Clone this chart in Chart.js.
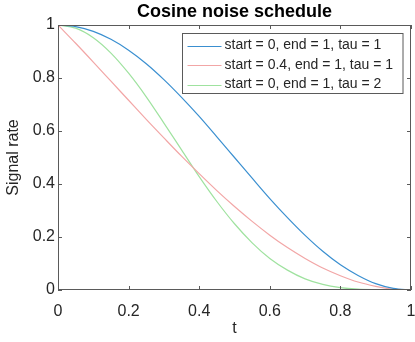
<!DOCTYPE html>
<html>
<head>
<meta charset="utf-8">
<script src="https://cdn.jsdelivr.net/npm/chart.js@4"></script>
<style>
  html, body { margin: 0; padding: 0; background: #fff; }
  #wrap { width: 415px; height: 342px; }
</style>
</head>
<body>
<div id="wrap"><canvas id="chart" width="415" height="342"></canvas></div>
<script>
// values (t from 0 to 1, step 0.05)
const tValues = [0, 0.05, 0.1, 0.15, 0.2, 0.25, 0.3, 0.35, 0.4, 0.45, 0.5,
                 0.55, 0.6, 0.65, 0.7, 0.75, 0.8, 0.85, 0.9, 0.95, 1];

const rateTau1 = [1, 0.994, 0.976, 0.946, 0.905, 0.854, 0.794, 0.727, 0.655, 0.578, 0.5,
                  0.422, 0.345, 0.273, 0.206, 0.146, 0.095, 0.055, 0.024, 0.006, 0];
const rateStart04 = [1, 0.931, 0.860, 0.788, 0.716, 0.644, 0.574, 0.505, 0.439, 0.375, 0.315,
                     0.259, 0.207, 0.160, 0.119, 0.083, 0.054, 0.030, 0.014, 0.003, 0];
const rateTau2 = [1, 0.988, 0.952, 0.894, 0.818, 0.729, 0.630, 0.529, 0.428, 0.334, 0.25,
                  0.178, 0.119, 0.075, 0.042, 0.021, 0.009, 0.003, 0.001, 0, 0];

const seriesLabels = ['start = 0, end = 1, tau = 1',
                      'start = 0.4, end = 1, tau = 1',
                      'start = 0, end = 1, tau = 2'];
const seriesColors = ['#3a8fd0', '#f2a6a6', '#9fe29f'];

const tickValues = [0, 0.2, 0.4, 0.6, 0.8, 1];
const tickLabels = ['0', '0.2', '0.4', '0.6', '0.8', '1'];

const chartTitle = 'Cosine noise schedule';

const FONT = 'Arial, "Liberation Sans", sans-serif';
const AXIS_COLOR = '#5a5a5a';

function toPoints(ys) {
    return tValues.map((t, i) => ({ x: t, y: ys[i] }));
}

// MATLAB style box with inward ticks on all sides
const boxPlugin = {
    id: 'boxTicks',
    afterDatasetsDraw(chart) {
        const { ctx, chartArea: a, scales } = chart;
        const len = 4;
        ctx.save();
        ctx.strokeStyle = AXIS_COLOR;
        ctx.lineWidth = 1;
        ctx.strokeRect(a.left + 0.5, a.top + 0.5, a.right - a.left - 1, a.bottom - a.top - 1);
        ctx.beginPath();
        tickValues.forEach(v => {
            const px = Math.round(scales.x.getPixelForValue(v)) + 0.5;
            ctx.moveTo(px, a.bottom); ctx.lineTo(px, a.bottom - len);
            ctx.moveTo(px, a.top); ctx.lineTo(px, a.top + len);
            const py = Math.round(scales.y.getPixelForValue(v)) + 0.5;
            ctx.moveTo(a.left, py); ctx.lineTo(a.left + len, py);
            ctx.moveTo(a.right, py); ctx.lineTo(a.right - len, py);
        });
        ctx.stroke();
        ctx.restore();
    }
};

// title centred over the axes, like MATLAB does
const titlePlugin = {
    id: 'axesTitle',
    afterDraw(chart) {
        const { ctx, chartArea: a } = chart;
        ctx.save();
        ctx.font = 'bold 18px ' + FONT;
        ctx.fillStyle = '#000';
        ctx.textAlign = 'center';
        ctx.textBaseline = 'middle';
        ctx.fillText(chartTitle, (a.left + a.right) / 2, 12);
        ctx.restore();
    }
};

// legend box inside the axes, top right
const legendPlugin = {
    id: 'innerLegend',
    afterDraw(chart) {
        const { ctx, chartArea: a } = chart;
        ctx.save();
        ctx.font = '14px ' + FONT;
        const textW = Math.max(...seriesLabels.map(s => ctx.measureText(s).width));
        const lineLen = 34;
        const boxW = 5 + lineLen + 3 + textW + 10;
        const boxH = 60;
        const x0 = Math.round(a.right - 8 - boxW) + 0.5;
        const y0 = a.top + 8.5;
        ctx.fillStyle = '#fff';
        ctx.fillRect(x0, y0, boxW, boxH);
        ctx.strokeStyle = AXIS_COLOR;
        ctx.lineWidth = 1;
        ctx.strokeRect(x0, y0, boxW, boxH);
        ctx.textBaseline = 'middle';
        ctx.textAlign = 'left';
        seriesLabels.forEach((label, i) => {
            const y = y0 + 12 + i * 19.5;
            ctx.strokeStyle = seriesColors[i];
            ctx.beginPath();
            ctx.moveTo(x0 + 5, Math.round(y) + 0.5);
            ctx.lineTo(x0 + 5 + lineLen, Math.round(y) + 0.5);
            ctx.stroke();
            ctx.fillStyle = '#262626';
            ctx.fillText(label, x0 + 5 + lineLen + 3, y);
        });
        ctx.restore();
    }
};

new Chart(document.getElementById('chart'), {
    type: 'line',
    data: {
        datasets: [rateTau1, rateStart04, rateTau2].map((ys, i) => ({
            label: seriesLabels[i],
            data: toPoints(ys),
            borderColor: seriesColors[i],
            borderWidth: 1.2,
            pointRadius: 0,
            fill: false,
            cubicInterpolationMode: 'monotone'
        }))
    },
    options: {
        responsive: false,
        animation: false,
        layout: { padding: { left: 0, right: 4, top: 25, bottom: 0 } },
        plugins: {
            legend: { display: false },
            tooltip: { enabled: false },
            title: { display: false }
        },
        scales: {
            x: {
                type: 'linear',
                min: 0, max: 1,
                afterBuildTicks: s => { s.ticks = tickValues.map(v => ({ value: v })); },
                afterFit: s => { s.height = 52; s.paddingLeft = 0; s.paddingRight = 0; },
                grid: { display: false, drawTicks: false },
                border: { display: false },
                ticks: {
                    color: '#262626',
                    font: { family: FONT, size: 16 },
                    padding: 12,
                    maxRotation: 0,
                    callback: (v, i) => tickLabels[i]
                },
                title: {
                    display: true, text: 't', color: '#262626',
                    font: { family: FONT, size: 16 },
                    padding: { top: 0, bottom: 4 }
                }
            },
            y: {
                min: 0, max: 1,
                afterBuildTicks: s => { s.ticks = tickValues.map(v => ({ value: v })); },
                afterFit: s => { s.width = 58; s.paddingTop = 0; s.paddingBottom = 0; },
                grid: { display: false, drawTicks: false },
                border: { display: false },
                ticks: {
                    color: '#262626',
                    font: { family: FONT, size: 16 },
                    padding: 3,
                    callback: (v, i) => tickLabels[i]
                },
                title: {
                    display: true, text: 'Signal rate', color: '#262626',
                    font: { family: FONT, size: 16 },
                    padding: { top: 4, bottom: 0 }
                }
            }
        }
    },
    plugins: [boxPlugin, titlePlugin, legendPlugin]
});
</script>
</body>
</html>
